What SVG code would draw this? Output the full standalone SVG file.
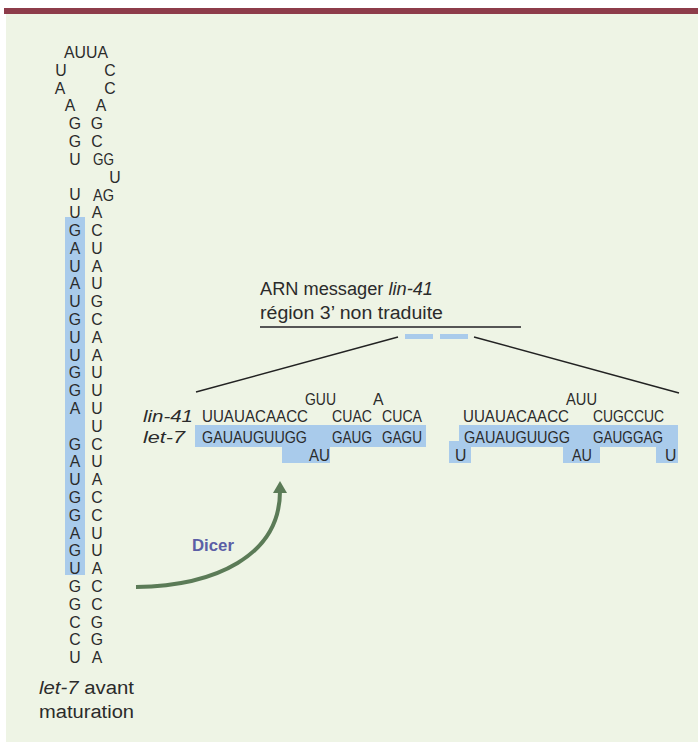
<svg xmlns="http://www.w3.org/2000/svg" width="698" height="742" viewBox="0 0 698 742">
<style>
.t{font-family:"Liberation Sans",Arial,sans-serif;font-size:15.8px;fill:#2b2b2b}
.c{text-anchor:middle}
.i{font-style:italic}
.n{font-family:"Liberation Sans",Arial,sans-serif;font-size:17px;font-style:italic;fill:#2b2b2b}
.lb{font-family:"Liberation Sans",Arial,sans-serif;font-size:18px;fill:#2b2b2b}
.hl{fill:#a9cbeb}
.ln{stroke:#222;stroke-width:1.4;fill:none}
</style>
<rect x="0" y="0" width="698" height="742" fill="#ffffff"/>
<rect x="6" y="14" width="692" height="728" fill="#eef4e5"/>
<rect x="4" y="8" width="694" height="6" fill="#8d3c4a"/>

<g id="hairpin">
<rect class="hl" x="65" y="217" width="20" height="358"/>
<text class="t" x="64" y="58" textLength="44" lengthAdjust="spacingAndGlyphs">AUUA</text>
<text class="t" x="93" y="165" textLength="21" lengthAdjust="spacingAndGlyphs">GG</text>
<text class="t" x="93" y="200.6" textLength="21" lengthAdjust="spacingAndGlyphs">AG</text>
<text class="t c"><tspan x="61" y="75.8">U</tspan><tspan x="60" y="93.6">A</tspan><tspan x="70" y="111.4">A</tspan><tspan x="75" y="129.2">G</tspan><tspan x="75" y="147">G</tspan><tspan x="75" y="164.8">U</tspan><tspan x="75" y="200.4">U</tspan><tspan x="75" y="218.2">U</tspan><tspan x="75" y="236">G</tspan><tspan x="75" y="253.8">A</tspan><tspan x="75" y="271.6">U</tspan><tspan x="75" y="289.4">A</tspan><tspan x="75" y="307.2">U</tspan><tspan x="75" y="325">G</tspan><tspan x="75" y="342.8">U</tspan><tspan x="75" y="360.6">U</tspan><tspan x="75" y="378.4">G</tspan><tspan x="75" y="396.2">G</tspan><tspan x="75" y="414">A</tspan><tspan x="75" y="449.6">G</tspan><tspan x="75" y="467.4">A</tspan><tspan x="75" y="485.2">U</tspan><tspan x="75" y="503">G</tspan><tspan x="75" y="520.8">G</tspan><tspan x="75" y="538.6">A</tspan><tspan x="75" y="556.4">G</tspan><tspan x="75" y="574.2">U</tspan><tspan x="75" y="592">G</tspan><tspan x="75" y="609.8">G</tspan><tspan x="75" y="627.6">C</tspan><tspan x="75" y="645.4">C</tspan><tspan x="75" y="663.2">U</tspan></text>
<text class="t c"><tspan x="110" y="75.8">C</tspan><tspan x="110" y="93.6">C</tspan><tspan x="101" y="111.4">A</tspan><tspan x="97" y="129.2">G</tspan><tspan x="97" y="147">C</tspan><tspan x="115" y="182.6">U</tspan><tspan x="97" y="218.2">A</tspan><tspan x="97" y="236">C</tspan><tspan x="97" y="253.8">U</tspan><tspan x="97" y="271.6">A</tspan><tspan x="97" y="289.4">U</tspan><tspan x="97" y="307.2">G</tspan><tspan x="97" y="325">C</tspan><tspan x="97" y="342.8">A</tspan><tspan x="97" y="360.6">A</tspan><tspan x="97" y="378.4">U</tspan><tspan x="97" y="396.2">U</tspan><tspan x="97" y="414">U</tspan><tspan x="97" y="431.8">U</tspan><tspan x="97" y="449.6">C</tspan><tspan x="97" y="467.4">U</tspan><tspan x="97" y="485.2">A</tspan><tspan x="97" y="503">C</tspan><tspan x="97" y="520.8">C</tspan><tspan x="97" y="538.6">U</tspan><tspan x="97" y="556.4">U</tspan><tspan x="97" y="574.2">A</tspan><tspan x="97" y="592">C</tspan><tspan x="97" y="609.8">C</tspan><tspan x="97" y="627.6">G</tspan><tspan x="97" y="645.4">G</tspan><tspan x="97" y="663.2">A</tspan></text>
</g>

<g id="label-precursor">
<text class="lb" x="39" y="694" textLength="95" lengthAdjust="spacingAndGlyphs"><tspan class="i">let-7</tspan> avant</text>
<text class="lb" x="39" y="718" textLength="95" lengthAdjust="spacingAndGlyphs">maturation</text>
</g>

<g id="mrna">
<text class="lb" x="260" y="295" textLength="173" lengthAdjust="spacingAndGlyphs">ARN messager <tspan class="i">lin-41</tspan></text>
<text class="lb" x="260" y="319" textLength="183" lengthAdjust="spacingAndGlyphs">région 3’ non traduite</text>
<line x1="260" y1="327" x2="521" y2="327" stroke="#555" stroke-width="2"/>
<rect class="hl" x="405" y="334" width="28" height="5"/>
<rect class="hl" x="440" y="334" width="28" height="5"/>
</g>

<g id="duplex1">
<rect class="hl" x="195" y="425" width="231" height="22"/>
<rect class="hl" x="282" y="425" width="48" height="38"/>
<text class="n" x="143" y="422" textLength="50" lengthAdjust="spacingAndGlyphs">lin-41</text>
<text class="n" x="143" y="443" textLength="42" lengthAdjust="spacingAndGlyphs">let-7</text>
<text class="t" x="305" y="405" textLength="31" lengthAdjust="spacingAndGlyphs">GUU</text>
<text class="t" x="373" y="405">A</text>
<text class="t" x="202" y="422" textLength="106" lengthAdjust="spacingAndGlyphs">UUAUACAACC</text>
<text class="t" x="332" y="422" textLength="40" lengthAdjust="spacingAndGlyphs">CUAC</text>
<text class="t" x="382" y="422" textLength="40" lengthAdjust="spacingAndGlyphs">CUCA</text>
<text class="t" x="202" y="443" textLength="105" lengthAdjust="spacingAndGlyphs">GAUAUGUUGG</text>
<text class="t" x="332" y="443" textLength="40" lengthAdjust="spacingAndGlyphs">GAUG</text>
<text class="t" x="382" y="443" textLength="40" lengthAdjust="spacingAndGlyphs">GAGU</text>
<text class="t" x="309" y="460.5" textLength="21" lengthAdjust="spacingAndGlyphs">AU</text>
</g>

<g id="duplex2">
<rect class="hl" x="459" y="425" width="219" height="22"/>
<rect class="hl" x="449" y="441" width="22" height="22"/>
<rect class="hl" x="563" y="441" width="37" height="22"/>
<rect class="hl" x="656" y="441" width="22" height="22"/>
<text class="t" x="566" y="405" textLength="31" lengthAdjust="spacingAndGlyphs">AUU</text>
<text class="t" x="463" y="422" textLength="106" lengthAdjust="spacingAndGlyphs">UUAUACAACC</text>
<text class="t" x="593" y="422" textLength="71" lengthAdjust="spacingAndGlyphs">CUGCCUC</text>
<text class="t" x="464" y="443" textLength="106" lengthAdjust="spacingAndGlyphs">GAUAUGUUGG</text>
<text class="t" x="593" y="443" textLength="70" lengthAdjust="spacingAndGlyphs">GAUGGAG</text>
<text class="t" x="455" y="460.5">U</text>
<text class="t" x="572" y="460.5" textLength="20" lengthAdjust="spacingAndGlyphs">AU</text>
<text class="t" x="665" y="460.5">U</text>
</g>

<g id="connectors">
<line class="ln" x1="398" y1="337" x2="196" y2="392"/>
<line class="ln" x1="474" y1="337" x2="679" y2="393"/>
<path d="M136,587 C215,586 280,556 280,491" fill="none" stroke="#5b7b57" stroke-width="4"/>
<polygon points="280,481 273,493 287,493" fill="#5b7b57"/>
<text x="192" y="551" textLength="42" lengthAdjust="spacingAndGlyphs" style="font-family:'Liberation Sans',Arial,sans-serif;font-size:17px;font-weight:bold;fill:#5b5ea6">Dicer</text>
</g>
</svg>
